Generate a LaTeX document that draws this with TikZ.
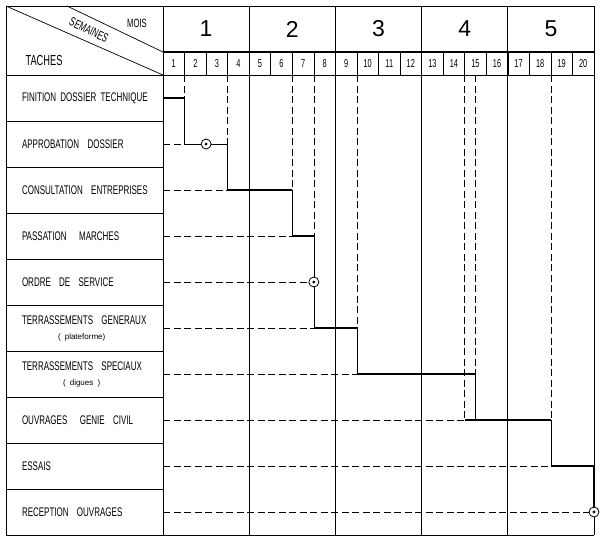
\documentclass[tikz,border=0pt]{standalone}
\usepackage{fontspec}
\setmainfont{Liberation Sans}[FakeStretch=0.64]
\newfontfamily\moisfont{Liberation Sans}
\usepackage{tikz}
\usetikzlibrary{positioning}
\tikzset{>=latex}
\tikzset{gantt-frame/.style={line width=0.8pt}}
\tikzset{gantt-line/.style={line width=0.7pt}}
\tikzset{gantt-bar/.style={line width=2.8pt}}
\tikzset{gantt-dash/.style={line width=0.7pt, dash pattern=on 7pt off 3.5pt}}
\tikzset{corner-cell/.style={draw, line width=0.8pt, inner sep=0, outer sep=0, minimum width=157pt, minimum height=69pt}}
\tikzset{month-cell/.style={draw, line width=0.8pt, inner sep=0, outer sep=0, minimum width=86.2pt, minimum height=46pt, font=\moisfont\fontsize{23}{23}\selectfont}}
\tikzset{week-cell/.style={draw, line width=0.6pt, inner sep=0, outer sep=0, minimum width=21.55pt, minimum height=23pt, font=\fontsize{11.5}{12}\selectfont}}
\tikzset{task-cell/.style={draw, line width=0.8pt, inner xsep=16pt, inner ysep=0, outer sep=0, text width=125pt, minimum height=46pt, align=left, font=\fontsize{12.5}{14}\selectfont}}
\tikzset{milestone/.style={circle, draw, fill=white, line width=0.8pt, minimum size=10pt, inner sep=0}}
\begin{document}
\begin{tikzpicture}[x=1pt, y=-1pt]
            \useasboundingbox (0,0) rectangle (600,542);

            \node[corner-cell, anchor=north west] (corner) at (6,6) {};

            \node[month-cell, below right=0pt and 0pt of corner.north east] (m1) {1};
            \node[month-cell, right=0pt of m1] (m2) {2};
            \node[month-cell, right=0pt of m2] (m3) {3};
            \node[month-cell, right=0pt of m3] (m4) {4};
            \node[month-cell, right=0pt of m4] (m5) {5};

            \node[week-cell, below right=0pt and 0pt of m1.south west] (w1) {1};
            \node[week-cell, right=0pt of w1] (w2) {2};
            \node[week-cell, right=0pt of w2] (w3) {3};
            \node[week-cell, right=0pt of w3] (w4) {4};
            \node[week-cell, right=0pt of w4] (w5) {5};
            \node[week-cell, right=0pt of w5] (w6) {6};
            \node[week-cell, right=0pt of w6] (w7) {7};
            \node[week-cell, right=0pt of w7] (w8) {8};
            \node[week-cell, right=0pt of w8] (w9) {9};
            \node[week-cell, right=0pt of w9] (w10) {10};
            \node[week-cell, right=0pt of w10] (w11) {11};
            \node[week-cell, right=0pt of w11] (w12) {12};
            \node[week-cell, right=0pt of w12] (w13) {13};
            \node[week-cell, right=0pt of w13] (w14) {14};
            \node[week-cell, right=0pt of w14] (w15) {15};
            \node[week-cell, right=0pt of w15] (w16) {16};
            \node[week-cell, right=0pt of w16] (w17) {17};
            \node[week-cell, right=0pt of w17] (w18) {18};
            \node[week-cell, right=0pt of w18] (w19) {19};
            \node[week-cell, right=0pt of w19] (w20) {20};

            \node[task-cell, below=0pt of corner] (t1) {\mbox{FINITION\ DOSSIER\ TECHNIQUE}};
            \node[task-cell, below=0pt of t1] (t2) {\mbox{APPROBATION\ \ DOSSIER}};
            \node[task-cell, below=0pt of t2] (t3) {\mbox{CONSULTATION\ \ ENTREPRISES}};
            \node[task-cell, below=0pt of t3] (t4) {\mbox{PASSATION\ \ \ MARCHES}};
            \node[task-cell, below=0pt of t4] (t5) {\mbox{ORDRE\ \ DE\ \ SERVICE}};
            \node[task-cell, below=0pt of t5] (t6) {\mbox{TERRASSEMENTS\ \ GENERAUX}\\[1pt]\hspace*{36pt}{\moisfont\fontsize{8}{9}\selectfont( plateforme)}};
            \node[task-cell, below=0pt of t6] (t7) {\mbox{TERRASSEMENTS\ \ SPECIAUX}\\[1pt]\hspace*{41pt}{\moisfont\fontsize{8}{9}\selectfont( digues )}};
            \node[task-cell, below=0pt of t7] (t8) {\mbox{OUVRAGES\ \ \ GENIE\ \ CIVIL}};
            \node[task-cell, below=0pt of t8] (t9) {ESSAIS};
            \node[task-cell, below=0pt of t9] (t10) {\mbox{RECEPTION\ \ OUVRAGES}};

            \draw[gantt-frame] (m1.south east) -- (m1.south east |- t10.south);
            \draw[gantt-frame] (m2.south east) -- (m2.south east |- t10.south);
            \draw[gantt-frame] (m3.south east) -- (m3.south east |- t10.south);
            \draw[gantt-frame] (m4.south east) -- (m4.south east |- t10.south);
            \draw[gantt-frame] (m5.south east) -- (m5.south east |- t10.south);
            \draw[gantt-frame] (t10.south east) -- (m5.south east |- t10.south);
            \draw[line width=2pt] (m1.south west) -- (m5.south east);

            \coordinate (diag) at (67,6);
            \draw[gantt-line] (corner.north west) -- (corner.south east);
            \draw[gantt-line] (diag) -- (corner.east |- m1.south);
            \node[font=\fontsize{12}{13}\selectfont] (mois) at (137,23) {MOIS};
            \node[font=\fontsize{12.5}{13}\selectfont, rotate=-25.6] (semaines) at (89,30) {SEMAINES};
            \node[font=\fontsize{14.5}{15}\selectfont] (taches) at (44,61) {TACHES};

            \draw[gantt-dash] (w1.south east) -- (w1.south east |- t1.east);
            \draw[gantt-bar] (t1.east) -- (w1.south east |- t1.east);
            \draw[gantt-line] (w1.south east |- t1.east) -- (w1.south east |- t2.east);

            \draw[gantt-dash] (t2.east) -- (w1.south east |- t2.east);
            \draw[gantt-line] (w1.south east |- t2.east) -- (w3.south east |- t2.east);
            \draw[gantt-dash] (w3.south east) -- (w3.south east |- t2.east);
            \draw[gantt-line] (w3.south east |- t2.east) -- (w3.south east |- t3.east);
            \node[milestone] (jalon1) at (w2.south east |- t2.east) {};
            \fill (jalon1.center) circle (1.6pt);

            \draw[gantt-dash] (t3.east) -- (w3.south east |- t3.east);
            \draw[gantt-bar] (w3.south east |- t3.east) -- (w6.south east |- t3.east);
            \draw[gantt-dash] (w6.south east) -- (w6.south east |- t3.east);
            \draw[gantt-line] (w6.south east |- t3.east) -- (w6.south east |- t4.east);

            \draw[gantt-dash] (t4.east) -- (w6.south east |- t4.east);
            \draw[gantt-bar] (w6.south east |- t4.east) -- (w7.south east |- t4.east);
            \draw[gantt-dash] (w7.south east) -- (w7.south east |- t4.east);
            \draw[gantt-line] (w7.south east |- t4.east) -- (w7.south east |- t6.east);

            \draw[gantt-dash] (t5.east) -- (w7.south east |- t5.east);
            \node[milestone] (jalon2) at (w7.south east |- t5.east) {};
            \fill (jalon2.center) circle (1.6pt);

            \draw[gantt-dash] (t6.east) -- (w7.south east |- t6.east);
            \draw[gantt-bar] (w7.south east |- t6.east) -- (w9.south east |- t6.east);
            \draw[gantt-dash] (w9.south east) -- (w9.south east |- t6.east);
            \draw[gantt-line] (w9.south east |- t6.east) -- (w9.south east |- t7.east);

            \draw[gantt-dash] (t7.east) -- (w9.south east |- t7.east);
            \draw[gantt-bar] (w9.south east |- t7.east) -- (w15.south |- t7.east);
            \draw[gantt-dash] (w15.south) -- (w15.south |- t7.east);
            \draw[gantt-line] (w15.south |- t7.east) -- (w15.south |- t8.east);

            \draw[gantt-dash] (t8.east) -- (w14.south east |- t8.east);
            \draw[gantt-dash] (w14.south east) -- (w14.south east |- t8.east);
            \draw[gantt-bar] (w14.south east |- t8.east) -- (w18.south east |- t8.east);
            \draw[gantt-dash] (w18.south east) -- (w18.south east |- t8.east);
            \draw[gantt-line] (w18.south east |- t8.east) -- (w18.south east |- t9.east);

            \draw[gantt-dash] (t9.east) -- (w18.south east |- t9.east);
            \draw[gantt-bar] (w18.south east |- t9.east) -- (w20.south east |- t9.east) -- (w20.south east |- t10.east);

            \draw[gantt-dash] (t10.east) -- (w20.south east |- t10.east);
            \node[milestone] (jalon3) at (w20.south east |- t10.east) {};
            \fill (jalon3.center) circle (1.6pt);

        \end{tikzpicture}
\end{document}
